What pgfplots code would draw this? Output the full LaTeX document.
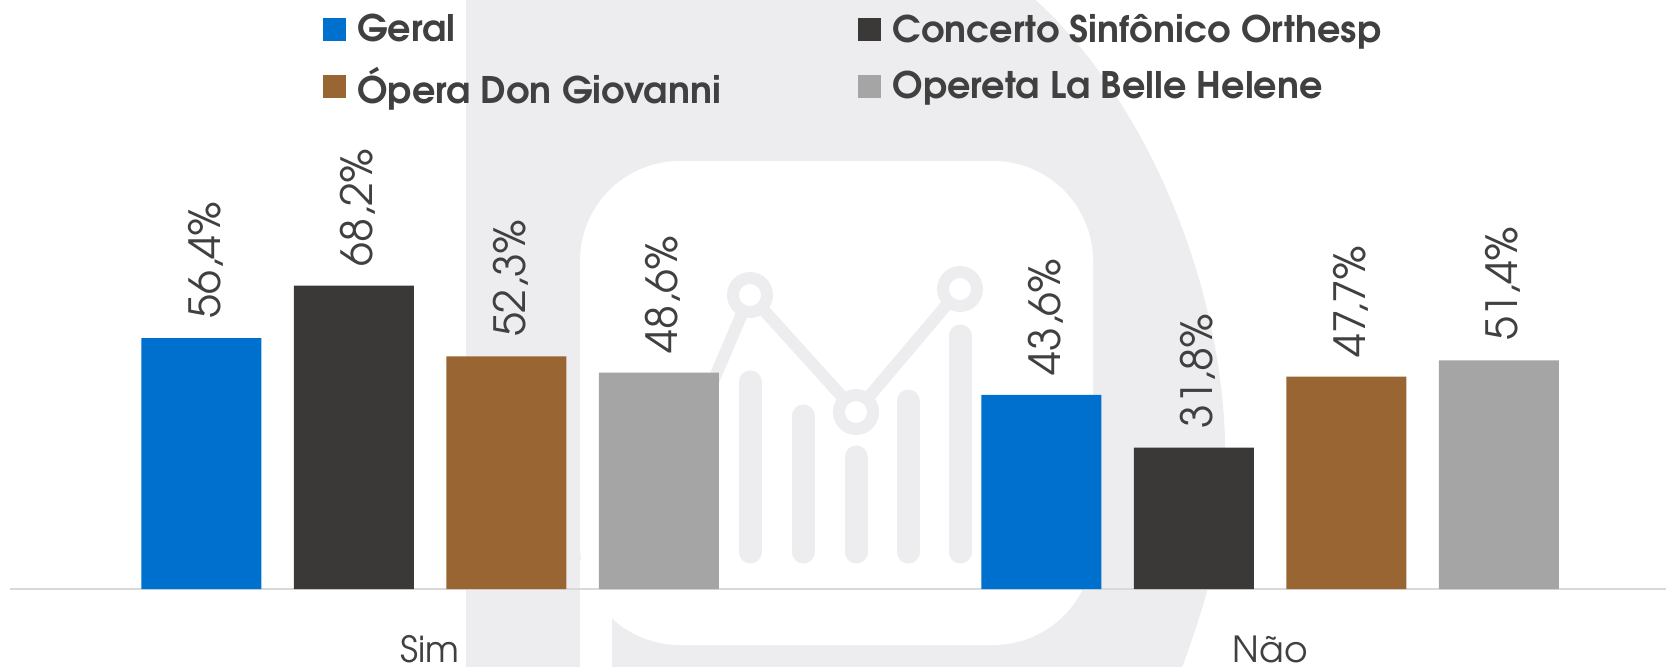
\documentclass[border=0pt]{standalone}
\usepackage{fontspec}
\setmainfont{TeX Gyre Adventor}
\usepackage{pgfplots}
\pgfplotsset{compat=1.18}
\definecolor{geral}{HTML}{0070CE}
\definecolor{concerto}{HTML}{3A3938}
\definecolor{opera}{HTML}{996633}
\definecolor{opereta}{HTML}{A5A5A5}
\definecolor{txt}{HTML}{404040}
\definecolor{wm}{HTML}{EDEDF0}
\definecolor{axisline}{HTML}{D9D9D9}
\begin{document}
\begin{tikzpicture}
\path[use as bounding box] (0,0) rectangle (833pt,-333pt);
% background watermark (decoration)
\begin{scope}[x=0.5pt,y=-0.5pt]
  \fill[wm] (466,700) -- (466,-5) -- (1030,-5) .. controls (1150,100) and (1230,300) .. (1225,470)
     .. controls (1222,560) and (1200,620) .. (1170,700) -- cycle;
  \fill[white, rounded corners=50pt] (580,161) rectangle (1093,645);
  \fill[white] (580,560) rectangle (612,700);
  \begin{scope}[wm, line cap=round]
    \draw[line width=11.5pt] (750,382) -- (750,552);
    \draw[line width=11.5pt] (803,416) -- (803,552);
    \draw[line width=11.5pt] (856,457) -- (856,552);
    \draw[line width=11.5pt] (908,401) -- (908,552);
    \draw[line width=11.5pt] (960,336) -- (960,552);
    \draw[line width=6pt] (700,412) -- (750,295) -- (856,412) -- (960,289);
    \draw[line width=6pt, fill=white] (750,295) circle[radius=8.5pt];
    \draw[line width=6pt, fill=white] (856,412) circle[radius=8.5pt];
    \draw[line width=6pt, fill=white] (960,289) circle[radius=8.5pt];
  \end{scope}
\end{scope}
\begin{axis}[
  at={(5pt,-294.5pt)}, anchor=south west,
  scale only axis, width=840pt, height=222.5pt,
  xmin=-0.5, xmax=1.5, ymin=0, ymax=100,
  ybar=16.25pt, bar width=60pt,
  axis x line=bottom, axis y line=none,
  x axis line style={-, draw=axisline, line width=1pt},
  xtick={0,1}, xticklabels={Sim,Não}, major tick length=0pt,
  xticklabel style={anchor=base, yshift=-36.5pt, font=\fontsize{18}{20}\selectfont, text=txt},
  ytick=\empty,
  clip=false,
  nodes near coords={\pgfmathprintnumber[fixed,fixed zerofill,precision=1,use comma,assume math mode=true]{\pgfplotspointmeta}\%},
  every node near coord/.append style={xshift=9.5pt, yshift=9.5pt, rotate=90, anchor=base west, inner sep=0pt, font=\fontsize{21.5}{24}\selectfont, text=txt},
  legend columns=2,
  legend cell align=left,
  legend image code/.code={\fill[#1] (0pt,-5.75pt) rectangle (11.5pt,5.75pt);},
  legend style={at={(0.1863,1.3011)}, anchor=north west, draw=none, fill=none, inner sep=0pt, outer sep=0pt,
     font=\bfseries\fontsize{18.3}{21}\selectfont, text=txt, row sep=6.8pt,
     /tikz/every odd column/.append style={column sep=3.6pt},
     /tikz/every even column/.append style={column sep=66.8pt}},
]
\addplot[fill=geral, draw=none] coordinates {(0,56.4) (1,43.6)};
\addplot[fill=concerto, draw=none] coordinates {(0,68.2) (1,31.8)};
\addplot[fill=opera, draw=none] coordinates {(0,52.3) (1,47.7)};
\addplot[fill=opereta, draw=none] coordinates {(0,48.6) (1,51.4)};
\legend{Geral, Concerto Sinfônico Orthesp, Ópera Don Giovanni, Opereta La Belle Helene}
\end{axis}
\end{tikzpicture}
\end{document}
